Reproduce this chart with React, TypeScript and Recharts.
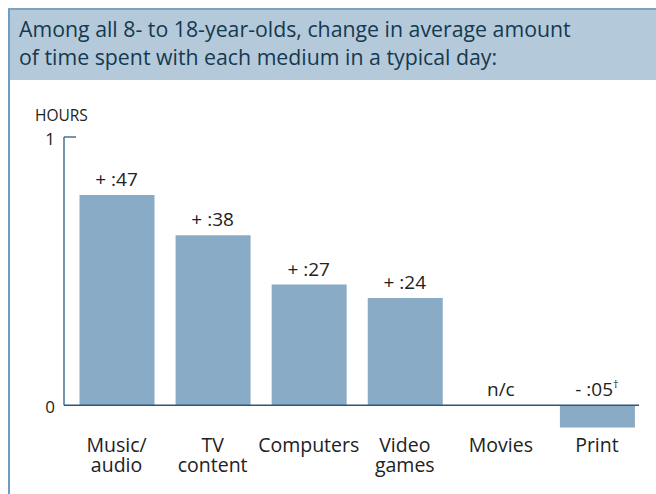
import { ComposedChart, Bar, Line, XAxis, YAxis, ReferenceLine, LabelList } from "recharts";

const categories = ["Music/\naudio", "TV\ncontent", "Computers", "Video\ngames", "Movies", "Print"];
// change in minutes per day
const changeMinutes = [47, 38, 27, 24, 0, -5];
const valueLabels = ["+ :47", "+ :38", "+ :27", "+ :24", "n/c", "- :05"];
const footnoteMarks = ["", "", "", "", "", "†"];
const yTicks = [0, 1];

const FONT = "'Open Sans', sans-serif";
const BAR = "#8aabc6";
const AXIS = "#3a6890";
const MARGIN = { top: 137, right: 11, bottom: 0, left: 0 };

const data = categories.map((c, i) => ({
    name: c,
    hours: changeMinutes[i] / 60,
    // labels sit on top of the bar, or on the zero line when there's no positive bar
    labelAt: Math.max(changeMinutes[i], 0) / 60,
    label: valueLabels[i],
    mark: footnoteMarks[i],
}));

const CategoryTick = (props: any) => {
    const { x, y, payload } = props;
    const lines = String(payload.value).split("\n");
    return (
        <g>
            {lines.map((l, i) => (
                <text key={i} x={x} y={y + 12 + i * 20} textAnchor="middle" fill="#222" fontSize={19.5} fontFamily={FONT}>
                    {l}
                </text>
            ))}
        </g>
    );
};

const ValueLabel = (props: any) => {
    const vb = props.viewBox ?? props;
    const x = vb.x + (vb.width || 0) / 2;
    const y = vb.y;
    const d = data[props.index];
    return (
        <text x={x} y={y - 9} textAnchor="middle" fill="#222" fontSize={19} fontFamily={FONT}>
            {d.label}
            {d.mark && (
                <tspan fontSize={11} dy={-8}>{d.mark}</tspan>
            )}
        </text>
    );
};

const AxisFrame = (props: any) => {
    const { x1, x2, y1 } = props;
    const left = Math.min(x1, x2);
    const right = Math.max(x1, x2);
    return (
        <g>
            <line x1={left} y1={y1} x2={right - 6} y2={y1} stroke="#2c5878" strokeWidth={1.6} />
            <line x1={left} y1={y1} x2={left} y2={MARGIN.top} stroke={AXIS} strokeWidth={1.4} />
            <line x1={left} y1={MARGIN.top} x2={left + 12} y2={MARGIN.top} stroke={AXIS} strokeWidth={1.4} />
        </g>
    );
};

export default function App() {
    return (
        <div style={{ position: "absolute", left: 0, top: 0, width: 656, height: 494, background: "#fff", fontFamily: FONT, overflow: "hidden" }}>
            <div style={{ position: "absolute", left: 8, top: 8, width: 1.5, height: 486, background: "#6f9ec2" }} />
            <div style={{ position: "absolute", left: 8, top: 8, width: 648, height: 1.5, background: "#7ea2be" }} />
            <div style={{ position: "absolute", left: 9.5, top: 9.5, width: 647, height: 70.5, background: "#b4cadb" }} />
            <div style={{ position: "absolute", left: 19, top: 15, color: "#15394f", fontSize: 21.3, lineHeight: "28px", whiteSpace: "nowrap" }}>
                Among all 8- to 18-year-olds, change in average amount
                <br />
                of time spent with each medium in a typical day:
            </div>
            <div style={{ position: "absolute", left: 35, top: 104, color: "#222", fontSize: 15.5 }}>HOURS</div>
            <div style={{ position: "absolute", left: 0, top: 0 }}>
                <ComposedChart width={656} height={494} data={data} margin={MARGIN}>
                    <XAxis
                        dataKey="name"
                        axisLine={false}
                        tickLine={false}
                        height={62}
                        padding={{ left: 4.5, right: 0 }}
                        interval={0}
                        tick={<CategoryTick />}
                    />
                    <YAxis
                        width={64}
                        domain={[-0.1, 1]}
                        ticks={yTicks}
                        axisLine={false}
                        tickLine={false}
                        tickSize={7}
                        tickMargin={2}
                        tick={{ fill: "#222", fontSize: 17, fontFamily: FONT, dy: 2 }}
                    />
                    <Bar dataKey="hours" fill={BAR} barSize={75} isAnimationActive={false} />
                    <Line dataKey="labelAt" stroke="none" dot={false} activeDot={false} isAnimationActive={false}>
                        <LabelList dataKey="label" content={<ValueLabel />} />
                    </Line>
                    <ReferenceLine y={0} shape={<AxisFrame />} />
                </ComposedChart>
            </div>
        </div>
    );
}
